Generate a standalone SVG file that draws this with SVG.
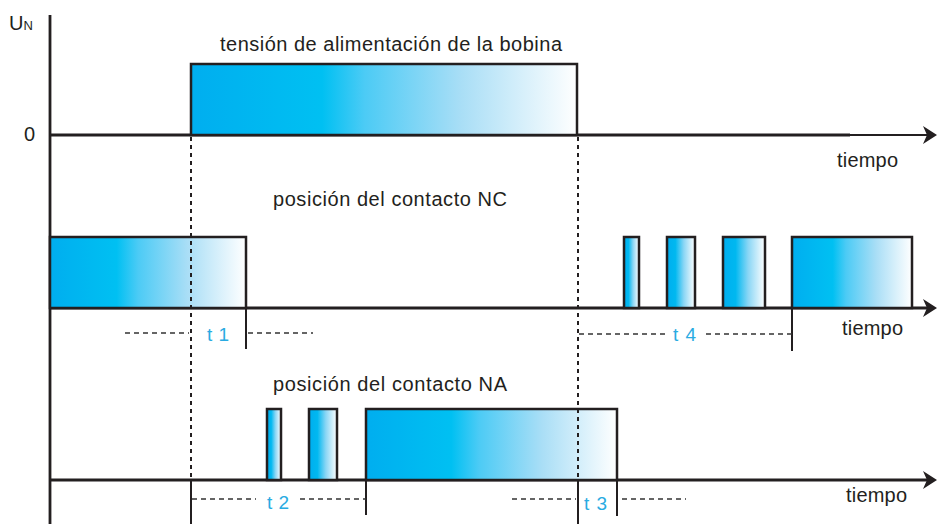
<svg xmlns="http://www.w3.org/2000/svg" width="937" height="524" viewBox="0 0 937 524">
<style>
text{font-family:"Liberation Sans",Arial,sans-serif;fill:#231f20}
.lbl{font-size:20px}
.t{font-size:19px;fill:#29abe2}
.box{stroke:#231f20;stroke-width:2.5}
.axis{stroke:#231f20;stroke-width:2.8;fill:none}
.thin{stroke:#231f20;stroke-width:1.8;fill:none}
.dot{stroke:#231f20;stroke-width:2;stroke-dasharray:4 4;fill:none}
.dash{stroke:#333;stroke-width:1.5;stroke-dasharray:5 4;fill:none}
.vs{stroke:#231f20;stroke-width:2;fill:none}
.head{fill:#231f20}
</style>
<defs>
<linearGradient id="g" x1="0" y1="0" x2="1" y2="0">
<stop offset="0" stop-color="#00aeef"/>
<stop offset="0.34" stop-color="#00c0f2"/>
<stop offset="0.45" stop-color="#4ccbf5"/>
<stop offset="0.7" stop-color="#a9def6"/>
<stop offset="1" stop-color="#ffffff"/>
</linearGradient>
<linearGradient id="gs" x1="0" y1="0" x2="1" y2="0">
<stop offset="0" stop-color="#00aeef"/>
<stop offset="0.3" stop-color="#00b8f0"/>
<stop offset="0.6" stop-color="#8ad6f5"/>
<stop offset="1" stop-color="#ffffff"/>
</linearGradient>
</defs>

<g id="axes">
<line class="axis" x1="50" y1="15" x2="50" y2="524"/>
<line class="axis" x1="50" y1="135" x2="850" y2="135"/>
<line class="thin" x1="850" y1="135" x2="928" y2="135"/>
<polygon class="head" points="937,135 923,126 927,135 923,144"/>
<line class="axis" x1="50" y1="308" x2="928" y2="308"/>
<polygon class="head" points="937,308 923,299 927,308 923,317"/>
<line class="axis" x1="50" y1="480" x2="928" y2="480"/>
<polygon class="head" points="937,480 923,471 927,480 923,489"/>
<text class="lbl" x="9" y="30" font-size="21">U<tspan font-size="13">N</tspan></text>
<text class="lbl" x="24" y="141" font-size="21">0</text>
</g>

<g id="coil">
<rect class="box" x="191" y="64" width="386" height="71" fill="url(#g)"/>
<text class="lbl" x="220" y="51" textLength="342" lengthAdjust="spacing">tensión de alimentación de la bobina</text>
<text class="lbl" x="837" y="167" textLength="61" lengthAdjust="spacing">tiempo</text>
</g>

<g id="nc">
<rect class="box" x="50" y="237" width="196" height="71" fill="url(#g)"/>
<rect class="box" x="624" y="237" width="15" height="71" fill="url(#gs)"/>
<rect class="box" x="667" y="237" width="28" height="71" fill="url(#gs)"/>
<rect class="box" x="723" y="237" width="42" height="71" fill="url(#gs)"/>
<rect class="box" x="792" y="237" width="120" height="71" fill="url(#g)"/>
<text class="lbl" x="273" y="206" textLength="234" lengthAdjust="spacing">posición del contacto NC</text>
<text class="lbl" x="842" y="335" textLength="61" lengthAdjust="spacing">tiempo</text>
</g>

<g id="na">
<rect class="box" x="267" y="409" width="14" height="71" fill="url(#gs)"/>
<rect class="box" x="309" y="409" width="28" height="71" fill="url(#gs)"/>
<rect class="box" x="366" y="409" width="251" height="71" fill="url(#g)"/>
<text class="lbl" x="273" y="391" textLength="234" lengthAdjust="spacing">posición del contacto NA</text>
<text class="lbl" x="846" y="502" textLength="61" lengthAdjust="spacing">tiempo</text>
</g>

<g id="connectors">
<line class="dot" x1="191" y1="137" x2="191" y2="480"/>
<line class="vs" x1="191" y1="480" x2="191" y2="524"/>
<line class="dot" x1="578" y1="137" x2="578" y2="480"/>
<line class="vs" x1="578" y1="480" x2="578" y2="524"/>
<line class="vs" x1="246" y1="308" x2="246" y2="349"/>
<line class="vs" x1="792" y1="308" x2="792" y2="351"/>
<line class="vs" x1="366" y1="480" x2="366" y2="515"/>
<line class="vs" x1="617" y1="480" x2="617" y2="516"/>
<line class="dash" x1="125" y1="333" x2="189" y2="333"/>
<line class="dash" x1="248" y1="333" x2="313" y2="333"/>
<line class="dash" x1="579" y1="334" x2="666" y2="334"/>
<line class="dash" x1="706" y1="334" x2="792" y2="334"/>
<line class="dash" x1="192" y1="499" x2="256" y2="499"/>
<line class="dash" x1="300" y1="499" x2="366" y2="499"/>
<line class="dash" x1="512" y1="499" x2="576" y2="499"/>
<line class="dash" x1="622" y1="499" x2="686" y2="499"/>
</g>

<g id="times">
<text class="t" x="207" y="341" textLength="22" lengthAdjust="spacing">t 1</text>
<text class="t" x="673" y="341" textLength="23" lengthAdjust="spacing">t 4</text>
<text class="t" x="267" y="509" textLength="22" lengthAdjust="spacing">t 2</text>
<text class="t" x="584" y="510" textLength="23" lengthAdjust="spacing">t 3</text>
</g>
</svg>
